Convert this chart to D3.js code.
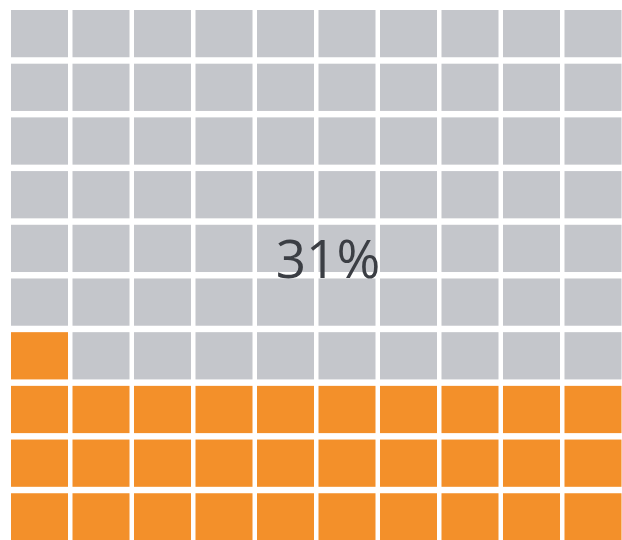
<!DOCTYPE html>
<html>
<head>
<meta charset="utf-8">
<script src="https://cdn.jsdelivr.net/npm/d3@7"></script>
<style>
  html, body { margin: 0; padding: 0; background: #ffffff; }
  svg { display: block; }
</style>
</head>
<body>
<svg id="chart" width="622" height="540"></svg>
<script>
// Waffle chart: 10 x 10 cells, share filled from the bottom-left corner
const share = 31;          // percent shown
const columns = d3.range(10);
const rows = d3.range(10);
const labelText = "31%";

const svg = d3.select("#chart");

const x = d3.scaleBand().domain(columns).range([11, 621.5]).paddingInner(0.073).paddingOuter(0);
const y = d3.scaleBand().domain(rows).range([10, 540.5]).paddingInner(0.12).paddingOuter(0);

// cell index counted row by row from the bottom-left
const cells = [];
rows.forEach(r => columns.forEach(c => {
  const rank = (rows.length - 1 - r) * columns.length + c;
  cells.push({ r, c, filled: rank < share });
}));

svg.append("g")
  .selectAll("rect")
  .data(cells)
  .join("rect")
  .attr("x", d => x(d.c))
  .attr("y", d => y(d.r))
  .attr("width", x.bandwidth())
  .attr("height", y.bandwidth())
  .attr("fill", d => d.filled ? "#f3902a" : "#c4c6cb");

svg.append("text")
  .attr("x", 328)
  .attr("y", 278)
  .attr("text-anchor", "middle")
  .attr("font-family", "'Open Sans', sans-serif")
  .attr("font-size", 53)
  .attr("fill", "#3b3e44")
  .text(labelText);
</script>
</body>
</html>
